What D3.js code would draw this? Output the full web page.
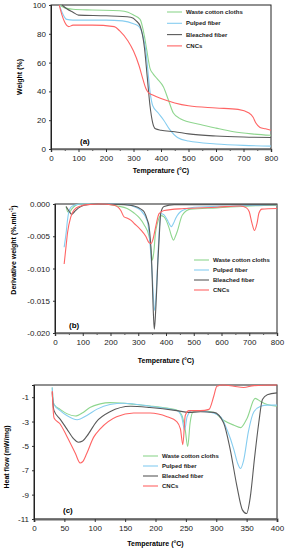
<!DOCTYPE html>
<html>
<head>
<meta charset="utf-8">
<script src="https://cdn.jsdelivr.net/npm/d3@7"></script>
<style>
body { margin: 0; background: #fff; }
svg { font-family: Arial, "Liberation Sans", sans-serif; }
</style>
</head>
<body>
<div id="vis"></div>
<script>
const seriesNames = ["Waste cotton cloths", "Pulped fiber", "Bleached fiber", "CNCs"];
const seriesColors = ["#8fd68f", "#86cdf0", "#5a5a5a", "#ff6464"];

// (a) TGA: [temperature, weight %]
const tgaWaste = [[30,100],[50,98],[80,97],[150,96.5],[250,96],[280,95],[300,93],[324,90],[340,78],[348,69],[360,56],[372,52],[385,49],[409,43],[427,34],[445,25],[470,21],[543,17],[600,14.5],[664,12],[730,10.5],[800,9.5]];
const tgaPulped = [[30,100],[40,95],[57,90],[80,89.5],[200,89.5],[260,89],[300,87],[320,85],[335,78],[345,68],[352,55],[360,40],[370,30],[390,25],[410,20],[430,14],[460,8],[500,5.5],[600,3.5],[700,2.5],[800,2]];
const tgaBleached = [[40,100],[60,97],[80,95],[100,93],[200,92.5],[290,91.5],[310,89],[325,85],[340,70],[350,50],[360,30],[370,18],[380,14],[400,13],[450,12],[500,10.5],[600,9],[700,8.3],[800,8]];
const tgaCnc = [[30,100],[40,93],[50,88],[65,85],[80,86],[150,86],[230,85],[250,82],[280,75],[300,68],[320,58],[335,48],[345,42],[355,39],[370,37.5],[400,35],[450,32],[500,30],[600,28.5],[680,27.5],[720,25],[735,22],[745,18],[760,15],[780,14],[800,13]];

// (b) DTG: [temperature, derivative weight]
const dtgWaste = [[40,-0.0004],[46,-0.0012],[52,-0.0013],[60,-0.0008],[75,-0.0002],[93,0],[165,0],[225,-0.0003],[260,-0.0007],[285,-0.0014],[305,-0.0022],[321,-0.0032],[339,-0.005],[346,-0.007],[351,-0.0087],[356,-0.0075],[362,-0.0045],[369,-0.003],[381,-0.0018],[393,-0.002],[411,-0.0037],[420,-0.005],[427,-0.0056],[434,-0.005],[441,-0.0042],[459,-0.0017],[489,-0.0008],[584,-0.0006],[704,-0.0003],[800,-0.0002]];
const dtgPulped = [[33,-0.0067],[40,-0.0045],[45,-0.0025],[52,-0.0009],[63,-0.0003],[93,0],[200,0],[261,-0.0001],[290,-0.0005],[309,-0.001],[333,-0.0027],[345,-0.0076],[351,-0.0115],[355,-0.0148],[359,-0.0165],[366,-0.0128],[371,-0.008],[375,-0.0045],[383,-0.0015],[393,-0.0017],[405,-0.0025],[411,-0.003],[419,-0.0035],[427,-0.003],[435,-0.0022],[459,-0.001],[501,-0.0005],[644,-0.0003],[800,-0.0001]];
const dtgBleached = [[40,-0.0004],[52,-0.0012],[60,-0.0016],[70,-0.0012],[85,-0.0006],[105,-0.0002],[153,0],[250,-0.0001],[285,-0.0003],[310,-0.0008],[321,-0.0012],[333,-0.0025],[339,-0.0035],[348,-0.0087],[355,-0.0174],[358,-0.0194],[363,-0.0164],[371,-0.0087],[377,-0.004],[381,-0.0014],[393,-0.0004],[429,-0.0001],[800,-0.0001]];
const dtgCnc = [[33,-0.0093],[40,-0.0065],[45,-0.0045],[57,-0.002],[69,-0.0009],[93,-0.0003],[117,-0.0001],[165,0],[213,-0.0002],[237,-0.001],[249,-0.002],[261,-0.0022],[273,-0.0025],[285,-0.003],[309,-0.004],[327,-0.005],[339,-0.006],[347,-0.0061],[353,-0.0055],[363,-0.0035],[375,-0.0015],[393,-0.001],[465,-0.0007],[584,-0.0005],[668,-0.0003],[690,-0.0006],[700,-0.0012],[710,-0.003],[719,-0.0041],[728,-0.003],[735,-0.0014],[745,-0.0008],[800,-0.0007]];

// (c) DSC: [temperature, heat flow]
const dscWaste = [[30,-0.2],[31,-1.0],[33,-1.6],[43,-2.0],[54,-2.35],[68,-2.55],[81,-2.25],[92,-1.85],[109,-1.55],[125,-1.45],[142,-1.48],[164,-1.58],[191,-1.72],[219,-1.9],[235,-2.05],[243,-2.45],[249,-3.7],[253,-5.05],[257,-3.1],[262,-2.2],[274,-2.1],[296,-2.25],[312,-2.9],[329,-3.3],[340,-3.5],[351,-2.7],[364,-1.1],[373,-1.35],[384,-1.6],[400,-1.75]];
const dscPulped = [[30,-0.2],[31,-1.0],[33,-1.6],[43,-2.1],[54,-2.5],[71,-2.85],[87,-2.5],[103,-2.0],[125,-1.6],[148,-1.5],[191,-1.75],[235,-2.1],[243,-2.6],[248,-3.7],[252,-2.6],[260,-2.1],[285,-2.2],[307,-2.6],[318,-3.7],[329,-5.3],[335,-6.4],[340,-6.85],[345,-6.2],[353,-3.8],[362,-2.2],[373,-1.75],[384,-1.65],[400,-1.65]];
const dscBleached = [[30,-0.6],[31,-1.4],[33,-2.1],[43,-2.8],[54,-3.6],[65,-4.4],[73,-4.7],[80,-4.6],[87,-4.2],[103,-3.0],[125,-2.2],[159,-1.75],[191,-1.85],[235,-2.1],[255,-2.25],[274,-2.2],[296,-2.25],[312,-3.1],[323,-5.3],[334,-8.3],[343,-10.25],[350,-10.55],[356,-9.2],[363,-6.0],[370,-3.1],[376,-1.2],[384,-0.8],[400,-0.65]];
const dscCnc = [[30,-0.5],[31,-1.6],[33,-2.7],[43,-3.2],[54,-4.2],[68,-5.6],[76,-6.4],[80,-6.3],[87,-5.6],[98,-4.3],[109,-3.6],[136,-2.6],[164,-2.3],[191,-2.3],[219,-2.6],[235,-3.0],[241,-3.6],[245,-4.9],[249,-2.5],[255,-2.1],[274,-2.1],[288,-2.0],[296,-0.9],[301,-0.1],[312,0],[329,-0.1],[345,-0.2],[362,-0.05],[400,0]];

const xTicksA = [0,100,200,300,400,500,600,700,800];
const xMinorA = [50,150,250,350,450,550,650,750];
const yTicksA = [0,20,40,60,80,100];
const yTicksB = [0,-0.005,-0.01,-0.015,-0.02];
const xTicksC = [0,50,100,150,200,250,300,350,400];
const yTicksC = [-1,-3,-5,-7,-9,-11];

const svg = d3.select("#vis")
    .append("svg")
    .attr("width", 287)
    .attr("height", 550);

function drawPanel(p) {
    const x = d3.scaleLinear().domain(p.xDomain).range([p.left, p.right]);
    const y = d3.scaleLinear().domain(p.yDomain).range([p.bottom, p.top]);
    const g = svg.append("g");

    // frame
    g.append("rect")
        .attr("x", p.left).attr("y", p.top)
        .attr("width", p.right - p.left).attr("height", p.bottom - p.top)
        .attr("fill", "none").attr("stroke", "#222").attr("stroke-width", 1);

    const line = d3.line()
        .x(d => x(d[0]))
        .y(d => y(d[1]))
        .curve(d3.curveMonotoneX);

    g.selectAll("path.series")
        .data(p.series)
        .enter()
        .append("path")
        .attr("class", "series")
        .attr("fill", "none")
        .attr("stroke", (d, i) => seriesColors[i])
        .attr("stroke-width", 1.1)
        .attr("d", line);

    if (p.xMinor) {
        g.append("g")
            .attr("transform", `translate(0,${p.bottom})`)
            .call(d3.axisBottom(x).tickValues(p.xMinor).tickSize(2).tickFormat(""))
            .call(a => a.select(".domain").remove())
            .selectAll(".tick line").attr("stroke", "#555");
    }

    const xAxis = g.append("g")
        .attr("transform", `translate(0,${p.bottom})`)
        .call(d3.axisBottom(x).tickValues(p.xTicks).tickSize(3).tickPadding(3));
    const yAxis = g.append("g")
        .attr("transform", `translate(${p.left},0)`)
        .call(d3.axisLeft(y).tickValues(p.yTicks).tickSize(2).tickPadding(3)
            .tickFormat(p.yFormat));
    [xAxis, yAxis].forEach(a => {
        a.selectAll("text").attr("font-size", 8).attr("fill", "#222")
            .attr("font-family", "Arial, 'Liberation Sans', sans-serif");
        a.selectAll(".tick line").attr("stroke", "#333");
    });
    xAxis.select(".domain").attr("stroke", "#666").attr("stroke-width", p.axisWidth || 1.5);
    yAxis.select(".domain").attr("stroke", "#222").attr("stroke-width", 1);

    // axis titles
    g.append("text")
        .attr("x", (p.left + p.right) / 2)
        .attr("y", p.xTitleY)
        .attr("text-anchor", "middle")
        .attr("font-size", 7).attr("font-weight", "bold")
        .text("Temperature (°C)");
    const yt = g.append("text")
        .attr("transform", `translate(${p.yTitleX},${p.yTitleCY}) rotate(-90)`)
        .attr("text-anchor", "middle")
        .attr("font-size", 7).attr("font-weight", "bold");
    if (p.yTitleSup) {
        yt.text(p.yTitle);
        yt.append("tspan").attr("baseline-shift", "super").attr("font-size", 5).text(p.yTitleSup);
        yt.append("tspan").text(")");
    } else {
        yt.text(p.yTitle);
    }

    // panel label
    g.append("text")
        .attr("x", p.tagX).attr("y", p.tagY)
        .attr("font-size", 8).attr("font-weight", "bold")
        .text(p.tag);

    // legend
    const lg = g.append("g");
    seriesNames.forEach((name, i) => {
        const yy = p.legY + i * p.legStep;
        lg.append("line")
            .attr("x1", p.legX).attr("x2", p.legX + 15)
            .attr("y1", yy).attr("y2", yy)
            .attr("stroke", seriesColors[i]).attr("stroke-width", 1.1);
        lg.append("text")
            .attr("x", p.legX + 19).attr("y", yy + 2)
            .attr("font-size", 6).attr("font-weight", "bold")
            .attr("fill", "#222")
            .text(name);
    });
}

drawPanel({
    left: 51, right: 271, top: 5, bottom: 149,
    xDomain: [0, 800], yDomain: [0, 100],
    xTicks: xTicksA, xMinor: xMinorA, yTicks: yTicksA, yFormat: d3.format("d"),
    series: [tgaWaste, tgaPulped, tgaBleached, tgaCnc],
    xTitleY: 173, yTitle: "Weight (%)", yTitleX: 22, yTitleCY: 77,
    tag: "(a)", tagX: 80, tagY: 144,
    legX: 167, legY: 12, legStep: 11.3
});

drawPanel({
    left: 55, right: 277, top: 204, bottom: 333,
    xDomain: [0, 800], yDomain: [-0.02, 0],
    xTicks: xTicksA, xMinor: xMinorA, yTicks: yTicksB,
    yFormat: d => d3.format(".3f")(d).replace("−", "-"),
    series: [dtgWaste, dtgPulped, dtgBleached, dtgCnc],
    xTitleY: 363, yTitle: "Derivative weight (%.min", yTitleSup: "-1",
    yTitleX: 16, yTitleCY: 250,
    tag: "(b)", tagX: 69, tagY: 328,
    legX: 194, legY: 260, legStep: 10
});

drawPanel({
    left: 34, right: 277, top: 385, bottom: 519,
    xDomain: [0, 400], yDomain: [-11, 0],
    xTicks: xTicksC, yTicks: yTicksC,
    yFormat: d => String(d),
    series: [dscWaste, dscPulped, dscBleached, dscCnc],
    axisWidth: 2,
    xTitleY: 546, yTitle: "Heat flow (mW/mg)", yTitleX: 9, yTitleCY: 457,
    tag: "(c)", tagX: 63, tagY: 513,
    legX: 143, legY: 456, legStep: 10
});
</script>
</body>
</html>
